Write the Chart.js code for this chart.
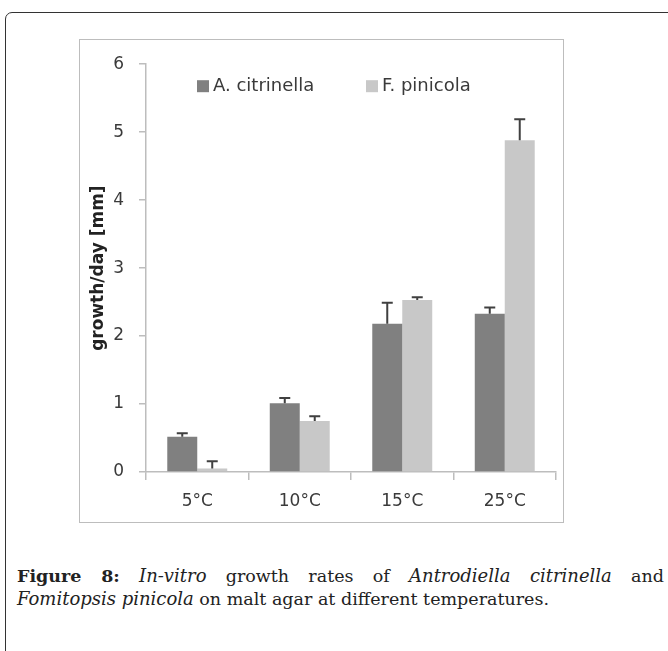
<!DOCTYPE html>
<html>
<head>
<meta charset="utf-8">
<script src="https://cdn.jsdelivr.net/npm/chart.js@4.4.1/dist/chart.umd.min.js"></script>
<style>
  html, body { margin:0; padding:0; background:#fff; width:668px; height:651px; overflow:hidden; }
  #frame { position:absolute; left:5px; top:12px; width:720px; height:720px;
           border:1.5px solid #333; border-radius:7px; box-sizing:border-box; }
  #box   { position:absolute; left:79px; top:39px; width:485px; height:484px; }
  #boxline { position:absolute; left:79px; top:39px; width:485px; height:484px;
             border:1.5px solid #bdbdbd; box-sizing:border-box; pointer-events:none; }
  #caption { position:absolute; left:17px; top:565px; width:647px;
             font-family:"DejaVu Serif",serif; font-size:17.5px;
             line-height:21.5px; color:#222; }
  #caption .l1 { text-align:justify; text-align-last:justify; }
  #caption i { font-size:18px; }
</style>
</head>
<body>
<div id="frame"></div>
<div id="box"><canvas id="chart" width="485" height="484"></canvas></div>
<div id="boxline"></div>
<div id="caption">
  <div class="l1"><b>Figure 8:</b> <i>In-vitro</i> growth rates of <i>Antrodiella citrinella</i> and</div>
  <div><i>Fomitopsis pinicola</i> on malt agar at different temperatures.</div>
</div>
<script>
/* ---- data ---- */
const categories     = ['5°C', '10°C', '15°C', '25°C'];
const seriesNames    = ['A. citrinella', 'F. pinicola'];
const citrinella     = [0.52, 1.01, 2.18, 2.33];
const citrinellaErr  = [0.05, 0.08, 0.31, 0.09];
const pinicola       = [0.05, 0.75, 2.53, 4.88];
const pinicolaErr    = [0.11, 0.07, 0.04, 0.31];
const yTicks         = [0, 1, 2, 3, 4, 5, 6];

const FONT = '"DejaVu Sans", sans-serif';
const AXIS = '#bdbdbd';
const TXT  = '#3a3a3a';

/* upper error bars with a short cap */
const errorBars = {
  id: 'errorBars',
  afterDatasetsDraw(chart) {
    const { ctx, scales: { y } } = chart;
    ctx.save();
    ctx.strokeStyle = '#404040';
    ctx.lineWidth = 2;
    chart.data.datasets.forEach((ds, i) => {
      chart.getDatasetMeta(i).data.forEach((bar, j) => {
        const top = y.getPixelForValue(ds.data[j] + ds.errors[j]);
        ctx.beginPath();
        ctx.moveTo(bar.x, bar.y);
        ctx.lineTo(bar.x, top);
        ctx.moveTo(bar.x - 5.5, top);
        ctx.lineTo(bar.x + 5.5, top);
        ctx.stroke();
      });
    });
    ctx.restore();
  }
};

/* legend drawn inside the plot, as in the original */
const innerLegend = {
  id: 'innerLegend',
  afterDraw(chart) {
    const { ctx, chartArea } = chart;
    const offsets = [51, 220];
    ctx.save();
    ctx.font = '18px ' + FONT;
    ctx.textBaseline = 'middle';
    chart.data.datasets.forEach((ds, i) => {
      const x = chartArea.left + offsets[i];
      const yc = chartArea.top + 22;
      ctx.fillStyle = ds.backgroundColor;
      ctx.fillRect(x, yc - 6, 12, 12);
      ctx.fillStyle = TXT;
      ctx.fillText(ds.label, x + 16, yc);
    });
    ctx.restore();
  }
};

new Chart(document.getElementById('chart'), {
  type: 'bar',
  data: {
    labels: categories,
    datasets: [
      { label: seriesNames[0], data: citrinella, errors: citrinellaErr, backgroundColor: '#808080' },
      { label: seriesNames[1], data: pinicola,   errors: pinicolaErr,   backgroundColor: '#c8c8c8' },
    ],
  },
  options: {
    responsive: false, animation: false, devicePixelRatio: 1,
    categoryPercentage: 0.585, barPercentage: 1.0,
    layout: { padding: { left: 0, top: 20, right: 8, bottom: 0 } },
    plugins: { legend: { display: false }, tooltip: { enabled: false } },
    scales: {
      x: {
        grid: { display: true, drawOnChartArea: false, offset: true, color: AXIS, lineWidth: 1.5, tickLength: 8 },
        border: { color: AXIS, width: 1.5 },
        ticks: { color: TXT, font: { family: FONT, size: 17 }, padding: 11 },
        afterFit: s => { s.height = 51; },
      },
      y: {
        min: 0, max: 6,
        afterBuildTicks: s => { s.ticks = yTicks.map(v => ({ value: v })); },
        grid: { display: true, drawOnChartArea: false, color: AXIS, lineWidth: 1.5, tickLength: 7 },
        border: { color: AXIS, width: 1.5 },
        ticks: { color: TXT, font: { family: FONT, size: 17 }, padding: 15 },
        title: { display: true, text: 'growth/day [mm]', color: '#222',
                 font: { family: FONT, size: 17, weight: 'bold' }, padding: { top: 9, bottom: 0 } },
        afterFit: s => { s.width = 67; },
      },
    },
  },
  plugins: [errorBars, innerLegend],
});
</script>
</body>
</html>
